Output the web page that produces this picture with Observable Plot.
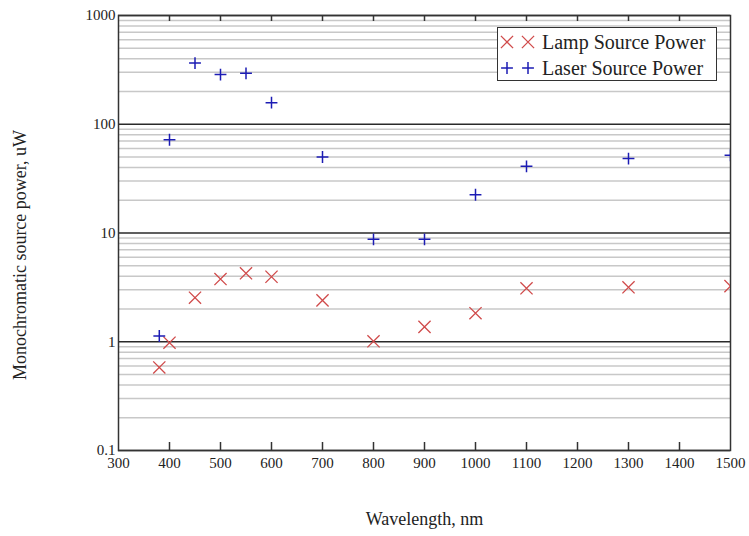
<!DOCTYPE html>
<html>
<head>
<meta charset="utf-8">
<script src="https://cdn.jsdelivr.net/npm/d3@7"></script>
<script src="https://cdn.jsdelivr.net/npm/@observablehq/plot@0.6"></script>
<style>
  html, body { margin: 0; padding: 0; background: #fff; }
  #wrap { position: relative; width: 749px; height: 536px; }
  #legend { position: absolute; left: 497px; top: 27px; width: 218px; height: 52px;
    border: 1.5px solid #333; background: #fff; font-family: "Liberation Serif", serif;
    font-size: 20px; color: #222; }
  #legend .row { position: absolute; left: 0; height: 26px; display: flex; align-items: center; }
  #legend .row span { margin-left: 2px; }
</style>
</head>
<body>
<div id="wrap"></div>
<script>
const wavelengths = [380, 400, 450, 500, 550, 600, 700, 800, 900, 1000, 1100, 1300, 1500];
const lampPower  = [0.58, 0.98, 2.54, 3.77, 4.26, 3.96, 2.40, 1.01, 1.37, 1.83, 3.10, 3.17, 3.25];
const laserPower = [1.13, 72, 365, 286, 294, 158, 50, 8.75, 8.75, 22.5, 41, 48.3, 51.9];
const xTicks = [300, 400, 500, 600, 700, 800, 900, 1000, 1100, 1200, 1300, 1400, 1500];
const yTicks = [0.1, 1, 10, 100, 1000];
const yTickLabels = ["0.1", "1", "10", "100", "1000"];
const seriesNames = ["Lamp Source Power", "Laser Source Power"];
const seriesColors = ["#d04a4a", "#1c1cb4"];

const lampData = wavelengths.map((w, i) => ({x: w, y: lampPower[i]}));
const laserData = wavelengths.map((w, i) => ({x: w, y: laserPower[i]}));
const minorY = [];
for (let d = 0; d < 4; d++) for (let k = 2; k <= 9; k++) minorY.push(yTicks[d] * k);

const chart = Plot.plot({
  width: 749,
  height: 536,
  marginLeft: 118,
  marginRight: 19,
  marginTop: 15,
  marginBottom: 86,
  style: {fontFamily: "Liberation Serif, serif", fontSize: "15px", color: "#222", background: "#fff"},
  x: {domain: [300, 1500]},
  y: {type: "log", domain: [0.1, 1000]},
  marks: [
    Plot.gridY(minorY, {stroke: "#c8c8c8", strokeOpacity: 1, strokeWidth: 1.5}),
    Plot.gridY(yTicks, {stroke: "#2a2a2a", strokeOpacity: 1, strokeWidth: 1.5}),
    Plot.ruleX(xTicks.slice(1, -1), {stroke: "#333", strokeWidth: 1.5, insetTop: 427}),
    Plot.ruleX(xTicks.slice(1, -1), {stroke: "#333", strokeWidth: 1.5, insetBottom: 429}),
    Plot.frame({stroke: "#333", strokeWidth: 1.5}),
    Plot.axisX(xTicks, {tickSize: 0, tickPadding: 7, fontSize: 15, label: null, tickFormat: d => String(d)}),
    Plot.axisY(yTicks, {tickSize: 0, tickPadding: 3, fontSize: 15, label: null,
      tickFormat: d => yTickLabels[yTicks.indexOf(d)]}),
    Plot.dot(lampData, {x: "x", y: "y", symbol: "times", r: 5.6, stroke: seriesColors[0], strokeWidth: 1.3, clip: "frame"}),
    Plot.dot(laserData, {x: "x", y: "y", symbol: "plus", r: 3.9, stroke: seriesColors[1], strokeWidth: 1.5, clip: "frame"}),
    Plot.text(["Wavelength, nm"], {frameAnchor: "bottom", dy: 74, fontSize: 18, fill: "#222"}),
    Plot.text(["Monochromatic source power, uW"], {frameAnchor: "left", textAnchor: "middle", dx: -98, dy: 22, rotate: -90, fontSize: 18, fill: "#222"})
  ]
});
document.getElementById("wrap").appendChild(chart);

// legend overlay
const legend = document.createElement("div");
legend.id = "legend";
const symbols = [d3.symbolTimes, d3.symbolPlus];
const symbolR = [5.6, 3.9];
const strokeW = [1.3, 1.5];
seriesNames.forEach((name, i) => {
  const row = document.createElement("div");
  row.className = "row";
  row.style.top = (1 + i * 26) + "px";
  const svg = d3.create("svg").attr("width", 42).attr("height", 26);
  const path = d3.symbol(symbols[i], Math.PI * symbolR[i] * symbolR[i])();
  [9, 30].forEach(cx => {
    svg.append("path").attr("d", path).attr("transform", `translate(${cx},13)`)
      .attr("fill", "none").attr("stroke", seriesColors[i]).attr("stroke-width", strokeW[i]);
  });
  row.appendChild(svg.node());
  const span = document.createElement("span");
  span.textContent = name;
  row.appendChild(span);
  legend.appendChild(row);
});
document.getElementById("wrap").appendChild(legend);
</script>
</body>
</html>
